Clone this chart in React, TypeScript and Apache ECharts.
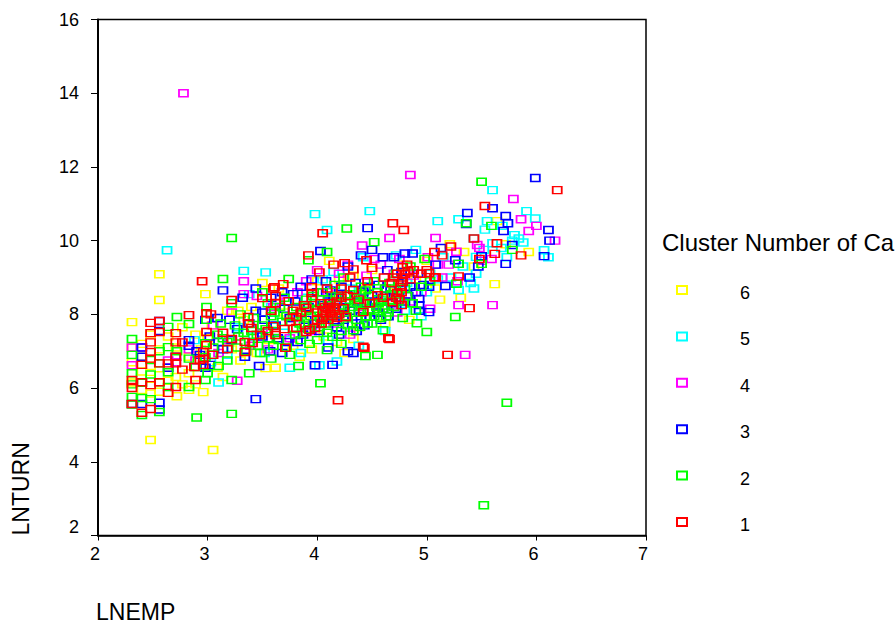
import React, { useEffect, useRef } from "react";
import * as echarts from "echarts";

const legendTitle = "Cluster Number of Ca";
const xName = "LNEMP";
const yName = "LNTURN";
const clusterNames = ["6", "5", "4", "3", "2", "1"];
const clusterColors = ["#ffff00", "#00ffff", "#ff00ff", "#0000ff", "#00ff00", "#ff0000"];

const cluster6: number[][] = [
  [2.48,4.59],[3.05,4.32],[2.56,8.39],[2.98,8.55],[2.31,7.79],[2.56,9.09],[5.62,8.82],[5.93,9.69],[5.31,8.45],[5.64,10.53],
  [3.53,6.54],[4.33,7.33],[2.96,5.89],[2.72,5.78],[2.83,5.95],[5.21,9.9],[5.34,9.69],[2.31,7.1],[2.31,6.7],[2.31,6.15],
  [2.4,7.2],[2.4,6.85],[2.4,6.45],[2.4,5.95],[2.48,7.45],[2.48,6.6],[2.48,6.25],[2.48,5.85],[2.56,7.05],[2.56,6.35],
  [2.56,5.9],[2.64,7.4],[2.64,6.55],[2.64,6.2],[2.71,7.1],[2.71,6.3],[2.77,7.65],[2.77,6.1],[2.83,6.85],[2.83,6.4],
  [2.89,7.45],[2.89,6.1],[2.94,7.05],[3.0,7.35],[3.04,7.7],[3.09,6.55],[3.14,6.3],[3.18,8.1],[3.22,7.05],[3.3,6.75],
  [3.33,7.85],[3.4,8.2],[3.45,6.95],[3.5,8.85],[3.56,7.3],[3.62,6.55],[3.7,8.05],[3.78,7.15],[3.84,6.85],[3.88,7.9],
  [3.95,7.05],[4.0,8.9],[4.06,7.4],[4.11,9.45],[4.18,7.25],[4.25,6.95],[4.33,9.05],[4.38,7.65],[4.5,9.2],[4.56,8.2],
  [4.62,7.75],[4.7,8.6],[4.78,9.35],[4.84,7.85],[4.9,8.95],[5.0,9.45],[5.08,8.7],[5.43,9.3],[5.12,8.4],[4.45,8.7],
  [4.2,8.95],[3.65,8.7],[3.28,8.1],[5.72,9.9]
];

const cluster5: number[][] = [
  [5.6,11.37],[4.48,10.8],[5.1,10.53],[5.29,10.58],[5.55,10.53],[5.53,10.3],[5.91,10.8],[5.99,10.6],[5.8,10.15],[5.84,10.06],
  [5.88,9.95],[6.07,9.74],[6.11,9.55],[5.43,8.7],[5.29,8.66],[5.43,10.06],[5.6,9.93],[5.45,9.56],[5.45,9.1],[5.69,10.4],
  [2.63,9.74],[3.33,9.18],[3.53,9.14],[3.98,10.72],[4.09,10.29],[3.1,6.15],[3.03,6.7],[3.75,6.55],[3.52,6.95],[4.18,6.72],
  [4.02,6.62],[3.42,7.4],[3.6,7.85],[3.85,6.95],[3.9,8.45],[4.05,8.95],[4.15,9.15],[4.3,8.7],[4.42,9.55],[4.56,8.4],
  [4.72,9.6],[4.82,8.85],[4.9,9.75],[4.95,7.95],[5.03,9.1],[5.15,9.55],[5.22,9.0],[5.33,9.3],[5.4,8.85],[5.52,9.75],
  [5.68,9.8],[5.73,9.55],[5.78,10.0],[2.88,7.3],[3.18,6.9],[3.28,7.65],[3.7,7.5],[4.1,7.3],[4.38,7.15],[4.62,7.55],
  [4.8,8.1],[5.0,8.6],[5.1,8.95],[3.58,8.2],[3.38,8.55]
];

const cluster4: number[][] = [
  [2.78,14.0],[4.85,11.78],[5.79,11.13],[5.93,10.26],[6.0,10.4],[6.17,10.0],[5.86,10.58],[4.66,10.07],[5.08,10.07],[5.27,9.7],
  [5.48,9.8],[5.46,9.88],[5.29,8.25],[5.6,8.25],[5.35,6.9],[5.59,9.5],[3.33,8.9],[3.33,8.55],[3.27,6.2],[3.05,7.7],
  [2.31,7.1],[2.31,6.62],[2.4,7.1],[2.64,6.75],[2.71,6.7],[2.89,6.75],[3.22,8.05],[3.35,7.0],[3.39,7.15],[3.45,8.5],
  [3.5,7.5],[3.6,8.2],[3.72,8.35],[3.75,7.35],[3.9,8.9],[4.0,9.2],[4.1,8.6],[4.2,9.1],[4.28,9.35],[4.41,9.87],
  [4.52,9.5],[4.58,9.35],[4.45,9.05],[4.62,8.7],[4.7,9.1],[4.75,9.5],[4.88,9.05],[4.95,8.6],[5.01,9.55],[5.1,9.35],
  [5.14,9.0],[5.2,9.35],[5.28,8.9],[5.03,8.15],[4.85,8.35],[4.4,8.2],[4.15,7.75],[3.95,7.55],[3.78,7.9],[3.55,7.05],
  [3.2,7.3],[3.1,6.95],[2.83,7.05],[5.5,9.45],[4.73,8.05],[4.3,7.45],[3.82,8.6]
];

const cluster3: number[][] = [
  [5.99,11.7],[5.6,10.88],[5.37,10.75],[5.72,10.67],[5.74,10.47],[5.7,10.26],[5.36,10.45],[6.11,10.29],[6.12,10.0],[6.07,9.58],
  [4.46,10.34],[5.78,9.88],[5.72,9.37],[5.5,9.58],[5.47,9.3],[5.39,9.0],[5.17,8.77],[5.13,9.8],[5.02,8.06],[5.29,9.37],
  [5.26,9.47],[3.44,5.7],[4.14,6.63],[4.33,6.95],[4.28,7.0],[3.02,6.63],[2.31,5.57],[2.56,7.82],[2.56,7.55],[2.56,5.42],
  [2.56,5.6],[2.4,7.1],[2.4,6.85],[2.4,5.57],[2.83,7.3],[2.83,7.15],[2.71,6.85],[2.64,6.55],[2.98,7.85],[2.98,6.55],
  [3.09,7.9],[3.14,7.05],[3.14,8.65],[3.22,7.3],[3.27,7.6],[3.34,6.85],[3.44,8.7],[3.47,6.6],[3.5,8.05],[3.57,7.0],
  [3.62,7.7],[3.7,8.15],[3.75,7.9],[3.8,8.35],[3.87,7.45],[3.95,8.95],[3.98,6.62],[4.03,9.72],[4.08,8.9],[4.12,8.0],
  [4.15,8.45],[4.18,7.65],[4.22,8.75],[4.28,9.3],[4.32,7.75],[4.4,9.6],[4.45,8.3],[4.5,9.75],[4.48,7.95],[4.55,8.05],
  [4.6,9.55],[4.62,8.5],[4.65,7.95],[4.7,9.55],[4.74,8.85],[4.8,9.65],[4.83,8.5],[4.87,9.65],[4.92,9.1],[4.93,8.1],
  [4.93,8.25],[4.93,8.42],[4.97,8.8],[5.02,8.75],[5.08,9.35],[3.32,8.45],[3.9,7.85],[4.02,7.55],[4.25,8.2],[4.35,8.85],
  [4.05,8.25],[3.72,7.25],[4.42,8.62],[4.68,8.3],[4.58,7.85],[3.02,7.4],[2.93,6.9],[2.9,7.0],[3.5,7.4],[4.1,7.1],
  [3.58,8.45],[3.68,8.6],[3.78,8.55],[3.85,8.75],[3.92,8.2],[3.97,7.75],[4.0,8.6],[4.06,7.85],[4.1,8.35],[4.17,8.25],
  [4.2,7.45],[4.27,8.55],[4.3,8.1],[4.37,8.35],[4.4,7.95],[4.43,7.7],[4.47,8.75],[4.52,8.35],[4.56,8.8],[4.6,8.15],
  [4.64,9.2],[4.67,8.65],[4.72,8.15],[4.77,9.15],[4.8,8.35],[4.85,8.75],[4.9,8.6],[3.38,7.75],[3.44,8.1],[3.52,7.85],
  [3.64,7.35],[3.82,7.25],[3.68,6.95],[3.2,7.85],[3.1,7.25],[4.12,8.65],[4.24,7.85],[4.36,7.55],[4.5,8.5],[4.74,8.45]
];

const cluster2: number[][] = [
  [5.5,11.6],[5.36,10.47],[5.59,10.4],[3.22,10.07],[4.27,10.33],[4.52,9.96],[4.09,9.69],[3.92,9.47],[3.14,8.96],[3.74,8.96],
  [5.26,7.93],[5.0,7.52],[4.91,7.76],[4.55,6.9],[4.44,6.87],[4.6,7.57],[5.73,5.6],[5.52,2.82],[4.03,6.13],[2.9,5.2],
  [3.22,5.3],[5.5,9.37],[5.29,9.37],[5.27,8.83],[5.78,9.75],[2.31,7.33],[2.31,6.9],[2.31,6.4],[2.31,5.76],[2.31,6.1],
  [2.31,5.55],[2.4,5.73],[2.4,5.27],[2.48,5.7],[2.56,5.35],[2.64,7.11],[2.64,7.66],[2.72,7.93],[2.83,7.74],[2.99,8.2],
  [2.99,7.85],[2.98,7.22],[2.83,6.03],[2.98,6.22],[2.56,6.16],[2.64,6.43],[2.64,6.03],[2.48,6.76],[2.56,7.0],[2.72,7.0],
  [2.83,6.8],[2.89,6.57],[2.98,6.84],[2.56,6.67],[2.48,6.37],[2.4,6.14],[3.04,6.9],[3.09,7.45],[3.14,7.35],[3.18,6.75],
  [3.22,8.3],[3.22,6.22],[3.27,7.1],[3.3,8.0],[3.33,7.5],[3.38,6.4],[3.42,7.9],[3.46,7.15],[3.5,8.6],[3.53,7.6],
  [3.58,6.8],[3.61,8.05],[3.65,7.3],[3.7,8.45],[3.75,6.9],[3.78,7.6],[3.81,8.2],[3.83,6.6],[3.88,7.7],[3.9,8.1],
  [3.93,7.2],[3.96,8.5],[4.0,7.3],[4.03,7.9],[4.05,8.6],[4.09,7.5],[4.09,7.03],[4.12,8.25],[4.14,7.39],[4.16,8.8],
  [4.18,7.8],[4.2,8.45],[4.22,7.2],[4.24,9.0],[4.25,8.05],[4.28,7.7],[4.3,8.55],[4.33,7.57],[4.36,7.85],[4.36,8.3],
  [4.39,7.66],[4.4,8.75],[4.42,8.1],[4.45,7.95],[4.47,8.5],[4.5,7.75],[4.52,8.9],[4.54,8.2],[4.58,7.9],[4.6,8.4],
  [4.62,8.7],[4.65,8.05],[4.68,8.55],[4.7,8.2],[4.72,9.1],[4.78,7.9],[4.82,8.5],[4.85,9.3],[4.9,8.1],[4.95,8.75],
  [4.98,9.5],[5.03,8.9],[3.35,7.0],[3.55,8.3],[3.68,7.8],[3.85,8.0],[3.98,8.3],[4.07,8.0],[4.15,8.15],[4.26,8.35],
  [4.32,8.2],[4.43,8.35],[4.48,8.1],[4.55,8.6],[4.66,8.85],[3.1,6.6],[3.0,6.4],[3.18,7.25],[3.25,7.7],[3.45,7.45],
  [3.62,7.55],[3.72,7.1],[3.8,7.45],[3.92,7.6],[4.08,7.75],[4.22,7.55],
  [3.4,7.55],[3.5,7.7],[3.58,7.95],[3.66,8.2],[3.72,7.95],[3.78,7.95],[3.84,7.75],[3.9,8.4],[3.94,7.95],[4.0,8.15],
  [4.02,7.65],[4.1,8.4],[4.13,7.95],[4.17,8.5],[4.2,8.15],[4.27,7.95],[4.3,8.3],[4.34,8.45],[4.38,8.05],[4.4,8.55],
  [4.44,8.65],[4.46,7.75],[4.5,8.3],[4.52,7.95],[4.56,8.3],[4.6,8.15],[4.63,7.95],[4.66,8.35],[4.7,8.7],[4.74,8.35],
  [4.8,8.7],[4.87,8.3],[3.05,7.1],[3.12,7.75],[3.28,7.4],[3.38,7.25],[3.48,6.95],[3.55,7.35],[3.6,7.15],[3.85,7.3]
];

const cluster1: number[][] = [
  [6.19,11.37],[5.53,10.94],[4.69,10.47],[4.79,10.29],[5.19,6.9],[5.39,8.17],[5.43,10.06],[5.22,9.84],[5.64,9.93],[5.86,9.6],
  [5.62,9.64],[5.48,9.5],[5.29,9.03],[5.08,9.0],[5.14,9.6],[5.07,9.69],[4.66,7.33],[4.43,7.09],[4.19,5.67],[4.05,10.2],
  [3.92,9.6],[2.95,8.9],[3.69,8.82],[3.61,8.74],[4.02,9.14],[4.45,9.47],[4.25,9.39],[4.33,9.22],[4.5,9.26],[4.61,9.0],
  [4.46,8.9],[2.83,7.98],[2.99,8.03],[2.48,7.77],[2.56,7.82],[2.56,7.52],[2.48,7.49],[2.48,7.24],[2.48,6.98],[2.71,7.49],
  [2.71,7.24],[2.77,7.24],[2.99,7.52],[2.99,7.17],[2.71,6.85],[2.48,6.8],[2.4,6.63],[2.56,6.67],[2.64,6.67],[2.71,6.67],
  [2.77,6.5],[2.88,6.57],[2.96,6.98],[2.96,6.8],[2.96,6.63],[2.89,6.22],[2.31,6.22],[2.31,6.0],[2.4,6.16],[2.56,6.16],
  [2.48,6.08],[2.71,6.03],[2.64,5.87],[2.31,5.57],[2.4,5.33],[2.48,5.43],[2.93,6.76],[3.22,8.39],[3.5,8.44],[3.6,8.7],
  [3.62,8.5],[3.62,8.3],[3.74,8.36],[3.37,7.93],[3.37,7.75],[3.4,7.63],[3.14,7.5],[3.22,7.33],[3.48,7.44],[3.6,7.68],
  [3.62,7.44],[3.34,7.25],[3.34,6.98],[3.41,7.22],[3.18,7.06],[3.71,7.09],[3.81,7.63],[3.9,8.17],[3.95,8.74],[3.95,8.58],
  [3.95,8.44],[3.81,7.93],[3.93,7.58],[4.0,7.85],[3.05,6.9],[3.03,8.0],[4.09,8.7],[4.22,8.7],[4.33,8.66],[4.55,8.52],
  [4.69,8.33],[4.77,8.25],[4.42,8.06],[4.26,7.93],[4.24,8.17],[4.65,7.35],[4.42,7.12],[3.9,7.52],[3.98,7.63],[4.73,8.58],
  [4.78,9.28],[5.02,9.12],[5.07,9.01],[4.78,9.0],[4.78,8.88],[4.77,8.6],[4.03,8.3],[4.05,8.1],[4.05,7.9],[4.07,8.2],
  [4.08,8.0],[4.1,7.85],[4.1,8.15],[4.12,8.05],[4.12,8.3],[4.14,7.95],[4.15,8.2],[4.16,8.1],[4.18,7.9],[4.18,8.35],
  [4.2,8.0],[4.04,7.75],[4.0,8.05],[4.22,8.45],[4.28,8.5],[4.38,8.4],[4.48,8.3],[4.6,8.45],[4.85,8.95],[4.88,9.2],
  [4.95,9.1],[5.0,9.2],[4.82,9.35],[4.73,9.1],[4.68,8.85],[4.3,9.0],[4.15,9.35],[3.85,8.05],[3.75,7.8],[3.55,7.55],
  [4.76,8.75],[4.8,9.1],[4.72,8.45],[4.7,9.0],[4.83,9.18],[4.75,8.4],[3.88,8.25],[3.78,8.1],[3.7,7.6],[3.58,8.1]
];

const clusterData = [cluster6, cluster5, cluster4, cluster3, cluster2, cluster1];

const shifted = (v: number) => `{a|${v}}`;

export default function App() {
  const ref = useRef<HTMLDivElement>(null);
  useEffect(() => {
    const chart = echarts.init(ref.current!, undefined, { renderer: "svg" });
    chart.setOption({
      animation: false,
      backgroundColor: "#fff",
      textStyle: { fontFamily: "Liberation Sans" },
      grid: { show: true, left: 98, top: 19.5, width: 548, height: 516, borderColor: "#000", borderWidth: 1.5, backgroundColor: "transparent" },
      xAxis: {
        type: "value", min: 2, max: 7, interval: 1,
        name: xName, nameLocation: "start", nameGap: 2, nameMoveOverlap: false,
        nameTextStyle: { fontSize: 23, color: "#000", align: "left", verticalAlign: "top", padding: [65, 0, 0, 0], fontFamily: "Liberation Sans" },
        splitLine: { show: false },
        axisLine: { show: true, onZero: false, lineStyle: { color: "#000", width: 1.5 } },
        axisTick: { show: true, length: 5, lineStyle: { color: "#000", width: 1 } },
        axisLabel: { margin: 9, formatter: shifted, rich: { a: { fontSize: 18, color: "#000", padding: [0, 6, 0, 0], fontFamily: "Liberation Sans" } } },
      },
      yAxis: {
        type: "value", min: 2, max: 16, interval: 2,
        name: yName, nameLocation: "start", nameGap: 0, nameRotate: 90, nameMoveOverlap: false,
        nameTextStyle: { fontSize: 23, color: "#000", align: "left", verticalAlign: "bottom", padding: [0, 0, 66, 0], fontFamily: "Liberation Sans" },
        splitLine: { show: false },
        axisLine: { show: true, onZero: false, lineStyle: { color: "#000", width: 2 } },
        axisTick: { show: true, length: 7, lineStyle: { color: "#000", width: 1 } },
        axisLabel: { margin: 19, color: "#000", fontSize: 18, verticalAlignMinLabel: "bottom", fontFamily: "Liberation Sans" },
      },
      legend: {
        orient: "vertical", left: 671, top: 279, itemWidth: 10, itemHeight: 8, itemGap: 28.4,
        icon: "rect", selectedMode: false,
        data: clusterNames,
        formatter: (name: string) => `{a|${name}}`,
        textStyle: {
          rich: { a: { fontSize: 18, color: "#000", height: 18, lineHeight: 24, verticalAlign: "bottom", padding: [0, 0, 0, 48], fontFamily: "Liberation Sans" } },
        },
      },
      graphic: [
        { type: "text", x: 662, y: 230, style: { text: legendTitle, fontSize: 24, fill: "#000", fontFamily: "Liberation Sans" } },
      ],
      series: clusterNames.map((name, i) => ({
        name,
        type: "scatter",
        symbol: "rect",
        symbolSize: [9, 7],
        data: clusterData[i],
        itemStyle: { color: "transparent", borderColor: clusterColors[i], borderWidth: 1.6, opacity: 1 },
      })),
    });
    return () => chart.dispose();
  }, []);
  return <div ref={ref} style={{ position: "absolute", left: 0, top: 0, width: 896, height: 626 }} />;
}
